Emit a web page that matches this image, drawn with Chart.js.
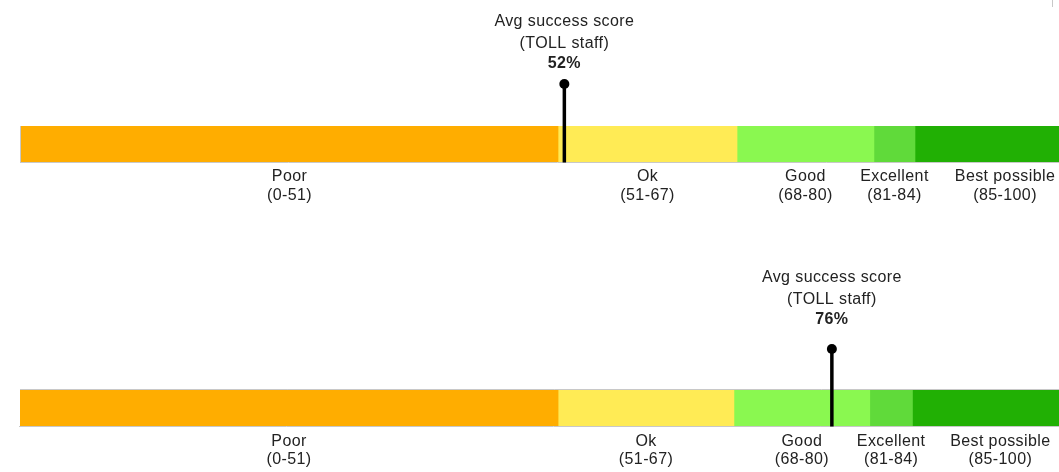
<!DOCTYPE html>
<html>
<head>
<meta charset="utf-8">
<script src="https://cdn.jsdelivr.net/npm/chart.js@4.4.1/dist/chart.umd.min.js"></script>
<style>
  html, body { margin: 0; padding: 0; background: #fff; overflow: hidden; width: 1059px; height: 472px; }
  canvas { position: absolute; left: 0; }
  #c1 { top: 0; }
  #c2 { top: 230px; }
</style>
</head>
<body>
<canvas id="c1" width="1110" height="230"></canvas>
<canvas id="c2" width="1110" height="242"></canvas>
<script>
// ---- data ----
const bandNames = ['Poor', 'Ok', 'Good', 'Excellent', 'Best possible'];
const bandRanges = ['(0-51)', '(51-67)', '(68-80)', '(81-84)', '(85-100)'];
const bandColors = ['#FFAD00', '#FFEB55', '#8AF850', '#60DA3A', '#21B004'];
// segment widths (in score units) as drawn in each gauge
const topSegments = [51, 17, 13, 3.9, 17.1];
const bottomSegments = [51.1, 16.7, 12.9, 4.05, 16.7];
const markerTitle = ['Avg success score', '(TOLL staff)'];
const topMarkerValue = 51.6;
const topMarkerLabel = '52%';
const bottomMarkerValue = 77.1;
const bottomMarkerLabel = '76%';

const FONT = '"Liberation Sans", Arial, Helvetica, sans-serif';
const TEXT = '#222';
const UNIT = 10.53;

function makeGauge(id, segments, markerValue, markerLabel, g) {
  const total = segments.reduce((a, b) => a + b, 0);
  const canvas = document.getElementById(id);
  const W = canvas.width, H = canvas.height;
  const areaLeft = g.left;
  const areaRight = areaLeft + total * UNIT;

  const gaugePlugin = {
    id: 'gauge_' + id,
    afterDraw(chart) {
      const ctx = chart.ctx;
      const xs = chart.scales.x;
      const area = chart.chartArea;
      ctx.save();
      // axis border lines
      ctx.strokeStyle = '#c8c8c8';
      ctx.lineWidth = 1;
      ctx.beginPath();
      if (g.leftLine) {
        ctx.moveTo(area.left - 0.5, area.top);
        ctx.lineTo(area.left - 0.5, area.bottom + 1);
      }
      ctx.moveTo(area.left - 1, area.bottom + 0.5);
      ctx.lineTo(area.right, area.bottom + 0.5);
      if (g.topLine) {
        ctx.moveTo(area.left, area.top - 0.5);
        ctx.lineTo(area.right, area.top - 0.5);
      }
      if (g.cornerTick) {
        ctx.moveTo(1052.5, 0);
        ctx.lineTo(1052.5, 7);
      }
      ctx.stroke();

      // band labels
      ctx.fillStyle = TEXT;
      ctx.font = '16px ' + FONT;
      ctx.letterSpacing = '0.4px';
      ctx.textAlign = 'center';
      ctx.textBaseline = 'middle';
      let acc = 0;
      segments.forEach((w, i) => {
        const cx = (xs.getPixelForValue(acc) + xs.getPixelForValue(acc + w)) / 2;
        ctx.fillText(bandNames[i], cx, area.bottom + g.lab1);
        ctx.fillText(bandRanges[i], cx, area.bottom + g.lab2);
        acc += w;
      });

      // marker
      const mx = xs.getPixelForValue(markerValue);
      const dotY = area.top + g.dot;
      ctx.strokeStyle = '#000';
      ctx.lineWidth = 3.5;
      ctx.beginPath();
      ctx.moveTo(mx, dotY);
      ctx.lineTo(mx, area.bottom + 0.5);
      ctx.stroke();
      ctx.fillStyle = '#000';
      ctx.beginPath();
      ctx.arc(mx, dotY, 5, 0, Math.PI * 2);
      ctx.fill();

      // marker title
      ctx.fillStyle = TEXT;
      ctx.font = '16px ' + FONT;
      ctx.fillText(markerTitle[0], mx, area.top + g.t1);
      ctx.fillText(markerTitle[1], mx, area.top + g.t2);
      ctx.font = 'bold 16px ' + FONT;
      ctx.fillText(markerLabel, mx, area.top + g.t3);
      ctx.restore();
    }
  };

  return new Chart(canvas, {
    type: 'bar',
    data: {
      labels: [''],
      datasets: segments.map((w, i) => ({
        label: bandNames[i],
        data: [w],
        backgroundColor: bandColors[i],
        borderWidth: 0,
        barPercentage: 1,
        categoryPercentage: 1
      }))
    },
    options: {
      indexAxis: 'y',
      responsive: false,
      animation: false,
      events: [],
      layout: {
        padding: { left: areaLeft, right: W - areaRight, top: g.barTop, bottom: H - g.barBottom }
      },
      scales: {
        x: { stacked: true, display: false, min: 0, max: total },
        y: { stacked: true, display: false }
      },
      plugins: { legend: { display: false }, tooltip: { enabled: false } }
    },
    plugins: [gaugePlugin]
  });
}

makeGauge('c1', topSegments, topMarkerValue, topMarkerLabel,
  { left: 21, barTop: 126, barBottom: 162, t1: -104.5, t2: -82.5, t3: -62, dot: -42, lab1: 15, lab2: 33.5, leftLine: true, topLine: false, cornerTick: true });
makeGauge('c2', bottomSegments, bottomMarkerValue, bottomMarkerLabel,
  { left: 20, barTop: 160, barBottom: 196, t1: -112.5, t2: -90.5, t3: -70.5, dot: -41, lab1: 15.5, lab2: 33.5, leftLine: false, topLine: true, cornerTick: false });
</script>
</body>
</html>
